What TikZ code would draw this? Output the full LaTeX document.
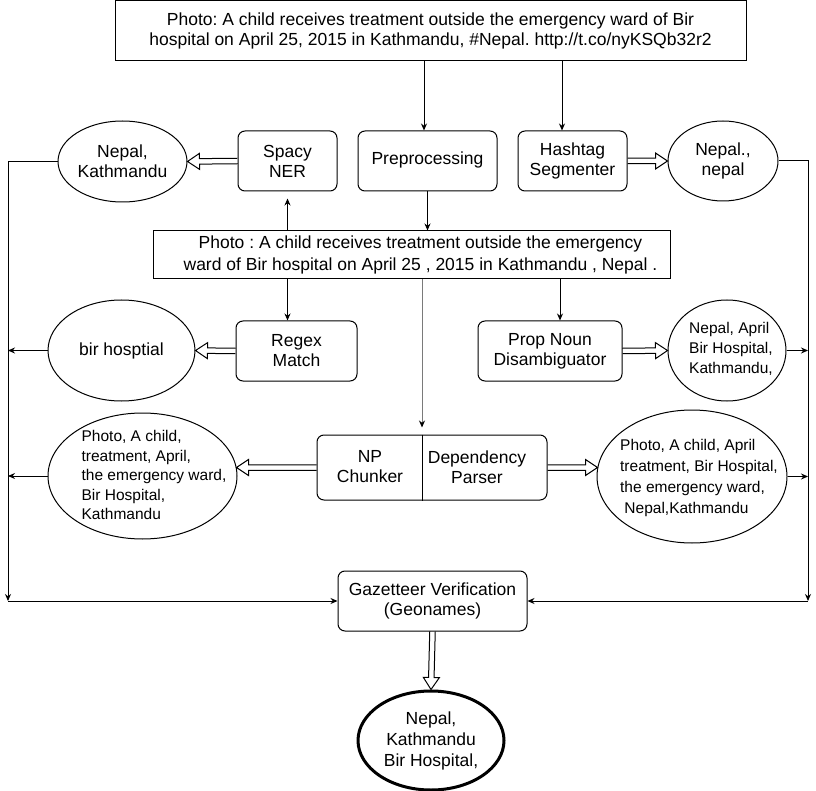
\documentclass[tikz,border=0pt]{standalone}
\usepackage{fontspec}
\setmainfont{Liberation Sans}
\usetikzlibrary{arrows.meta,positioning,calc,shapes.geometric}
\definecolor{ink} {HTML}{000000}
\definecolor{wire}{HTML}{7A7A7A}

\begin{document}
\frenchspacing
\begin{tikzpicture}[
  x=1pt, y=-1pt, line width=1pt,
  every node/.style={font=\fontsize{17.5}{20}\selectfont, text=ink},
  >={Stealth[length=7pt,width=6pt]},
  box/.style={rectangle, draw=ink, inner sep=0pt, align=center},
  proc/.style={box, rounded corners=7pt},
  ov/.style={ellipse, draw=ink, inner sep=0pt},
  lst/.style={font=\fontsize{15.5}{20}\selectfont, align=left},
  hollow/.style={draw=ink, to path={
    ($(\tikztostart)!2.75pt!90:(\tikztotarget)$)
    -- ($(\tikztotarget)!12pt!(\tikztostart)!2.75pt!-90:(\tikztostart)$)
    -- ($(\tikztotarget)!12pt!(\tikztostart)!8pt!-90:(\tikztostart)$)
    -- (\tikztotarget)
    -- ($(\tikztotarget)!12pt!(\tikztostart)!8pt!90:(\tikztostart)$)
    -- ($(\tikztotarget)!12pt!(\tikztostart)!2.75pt!90:(\tikztostart)$)
    -- ($(\tikztostart)!2.75pt!-90:(\tikztotarget)$)}}
]
\useasboundingbox (0,0) rectangle (816,791);

% input tweet and first stage
\node[box, minimum width=631pt, minimum height=60pt] (tweet) at (430.5,31)
  {Photo: A child receives treatment outside the emergency ward of Bir\\
   hospital on April 25, 2015 in Kathmandu, \#Nepal. http://t.co/nyKSQb32r2};
\node[proc, minimum width=99pt,  minimum height=60pt] (ner)  at (287.5,161) {Spacy\\NER};
\node[proc, minimum width=139pt, minimum height=60pt] (prep) at (427.5,161) {\strut Preprocessing};
\node[proc, minimum width=109pt, minimum height=60pt] (hash) at (572.5,161) {Hashtag\\Segmenter};
\node[ov, minimum width=129pt, minimum height=81pt,
  label={[align=center]center:{Nepal,\\Kathmandu}}] (nerout) at (122.5,161.5) {};
\node[ov, minimum width=110pt, minimum height=80pt,
  label={[align=center]center:{Nepal.,\\nepal}}] (hashout) at (723,161) {};

% cleaned sentence
\node[box, minimum width=517pt, minimum height=48pt] (clean) at (411.5,255) {};
\node[align=center, font=\fontsize{17.5}{22}\selectfont] (cleantxt) at ([xshift=9pt]clean.center)
  {Photo : A child receives treatment outside the emergency\\
   ward of Bir hospital on April 25 , 2015 in Kathmandu , Nepal .};

\node[proc, minimum width=121pt, minimum height=60pt] (regex) at (296.5,351) {Regex\\Match};
\node[proc, minimum width=144pt, minimum height=60pt] (prop)  at (550,351) {Prop Noun\\Disambiguator};
\node[ov, minimum width=147pt, minimum height=101pt,
  label={center:{bir hosptial}}] (regexout) at (121.5,350.5) {};
\node[ov, minimum width=118pt, minimum height=101pt,
  label={[lst, xshift=4pt, yshift=2pt]center:{Nepal, April\\Bir Hospital,\\Kathmandu,}}] (propout) at (727,350.5) {};

% chunker / parser
\node[proc, minimum width=230pt, minimum height=65pt] (parse) at (432,467.5) {};
\coordinate (cut) at (422,467.5);
\draw (cut |- parse.north) -- (cut |- parse.south);
\node[align=center] (chunk) at (370,467) {NP\\Chunker};
\node[align=center] (dep)   at (477,467) {Dependency\\Parser};
\node[ov, minimum width=189pt, minimum height=126pt,
  label={[lst, xshift=11.5pt, yshift=1pt, font=\fontsize{15.5}{19.5}\selectfont]center:{Photo, A child,\\treatment, April,\\the emergency ward,\\Bir Hospital,\\Kathmandu}}] (chunkout) at (142.5,476) {};
\node[ov, minimum width=190pt, minimum height=133pt,
  label={[lst, xshift=7pt, yshift=-1.5pt, font=\fontsize{15.5}{21}\selectfont]center:{Photo, A child, April\\treatment, Bir Hospital,\\the emergency ward,\\\ Nepal,Kathmandu}}] (depout) at (692,476.5) {};

% verification and result
\node[proc, minimum width=189pt, minimum height=60pt] (gaz) at (432.5,601) {Gazetteer Verification\\(Geonames)};
\node[ov, line width=3pt, minimum width=146pt, minimum height=99pt,
  label={[align=center, font=\fontsize{17.5}{21}\selectfont]center:{Nepal,\\Kathmandu\\Bir Hospital,}}] (final) at (431,740.5) {};
\coordinate (lbus) at (8,601);
\coordinate (rbus) at (808,601);

% thin connectors
\draw[->] ([xshift=-3.5pt]prep.north |- tweet.south) -- ([xshift=-3.5pt]prep.north);
\draw[->] ([xshift=-10.5pt]hash.north |- tweet.south) -- ([xshift=-10.5pt]hash.north);
\draw[->] (prep.south) -- (prep.south |- clean.north);
\draw[->, shorten >=7pt] (ner.south |- clean.north) -- (ner.south);
\draw[->] (ner.south |- clean.south) -- (ner.south |- regex.north);
\draw[->] ([xshift=10pt]prop.north |- clean.south) -- ([xshift=10pt]prop.north);
\draw[wire, -{Stealth[length=7pt,width=6pt,color=ink]}, shorten >=7pt] (cut |- clean.south) -- (cut |- parse.north);

\draw[->] (nerout.west) -| (lbus);
\draw[->] (regexout.west) -- (regexout.west -| lbus);
\draw[->] (chunkout.west) -- (chunkout.west -| lbus);
\draw[->] (lbus) -- (gaz.west);
\draw[->] (hashout.east) -| (rbus);
\draw[->] (propout.east) -- (propout.east -| rbus);
\draw[->] (depout.east) -- (depout.east -| rbus);
\draw[->] (rbus) -- (gaz.east);

% hollow arrows
\draw[hollow] (ner.west) to (nerout.east);
\draw[hollow] (hash.east) to (hashout.west);
\draw[hollow] (regex.west) to (regexout.east);
\draw[hollow] (prop.east) to (propout.west);
\draw[hollow] (parse.west) to ([xshift=-1pt]chunkout.east |- parse.west);
\draw[hollow] (parse.east) to ([xshift=1pt]depout.west |- parse.east);
\draw[hollow] (gaz.south) to (final.north);
\end{tikzpicture}
\end{document}
